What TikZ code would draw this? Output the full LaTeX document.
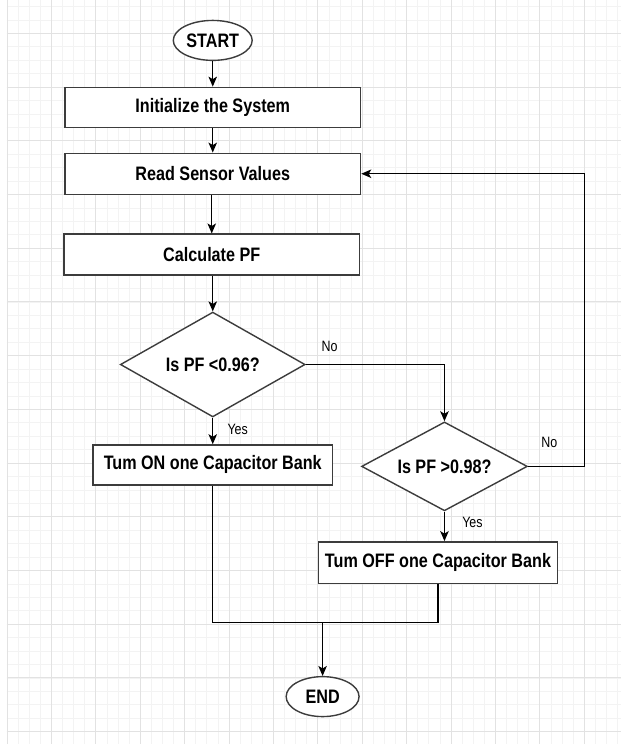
\documentclass[tikz,border=0pt]{standalone}
\usepackage{fontspec}
\setmainfont{Liberation Sans}
\newfontfamily\chartfont[FakeStretch=0.83]{Liberation Sans}
\usetikzlibrary{shapes.geometric,arrows.meta}
\definecolor{gridmaj}{HTML}{E2E2E2}
\definecolor{gridmin}{HTML}{F3F3F3}
\definecolor{edge}{HTML}{3C3C3C}

\begin{document}
\begin{tikzpicture}[x=1pt,y=-1pt,line width=1.3pt,
    box/.style={rectangle,draw=edge,fill=white,line width=1.4pt,inner sep=0pt,font=\chartfont\bfseries\fontsize{19.5}{21}\selectfont},
    term/.style={ellipse,draw=edge,fill=white,line width=1.4pt,inner sep=0pt,font=\chartfont\bfseries\fontsize{19.5}{21}\selectfont},
    dec/.style={diamond,aspect=1.75,draw=edge,fill=white,line width=1.4pt,inner sep=0pt,font=\chartfont\bfseries\fontsize{19.5}{21}\selectfont},
    lbl/.style={inner sep=0pt,font=\chartfont\fontsize{15}{17}\selectfont},
    gmin/.style={draw=gridmin,line width=0.8pt},
    gmaj/.style={draw=gridmaj,line width=0.9pt},
    >={Stealth[length=10pt,width=8.5pt,inset=2.5pt]}]
    \fill[white] (0,0) rectangle (622,744);
    \foreach \i in {0,...,55} \draw[gmin] ({7+\i*11.115},0) -- ({7+\i*11.115},744);
    \foreach \j in {0,...,54} \draw[gmin] (7,{6.12+\j*13.443}) -- (622,{6.12+\j*13.443});
    \foreach \k in {0,...,13} {
      \draw[gmaj] ({7+\k*44.46},0) -- ({7+\k*44.46},744);
      \draw[gmaj] (7,{33+\k*53.77}) -- (622,{33+\k*53.77});
    }

    \node (ST) at (213,40) [term,minimum width=79,minimum height=40]{START};
    \node (IN) at (213,107) [box,minimum width=296,minimum height=40]{Initialize the System};
    \node (RD) at (213,173.5) [box,minimum width=296,minimum height=41]{Read Sensor Values};
    \node (CA) at (212,254.5) [box,minimum width=296,minimum height=41]{Calculate PF};
    \node (D1) at (213,364.5) [dec,minimum width=185,minimum height=105]{Is PF <0.96?};
    \node (ON) at (213,465) [box,minimum width=240,minimum height=40]{Tum ON one Capacitor Bank};
    \node (D2) at (445,466.5) [dec,minimum width=166,minimum height=89]{Is PF >0.98?};
    \node (OF) at (438.5,563) [box,minimum width=239,minimum height=42]{Tum OFF one Capacitor Bank};
    \node (EN) at (323,697) [term,minimum width=73,minimum height=40]{END};
    \coordinate (L) at (585,466.5);
    \coordinate (M) at (323,623);

    \node (N1) at (330,346) [lbl]{No};
    \node (Y1) at (238,429) [lbl]{Yes};
    \node (N2) at (550,442) [lbl]{No};
    \node (Y2) at (473,523) [lbl]{Yes};

    \draw [->] (ST) -- (IN);
    \draw [->] (IN) -- (RD);
    \draw [->] (RD.south -| CA.north) -- (CA.north);
    \draw [->] (CA.south -| D1.north) -- (D1.north);
    \draw [->] (D1.south) -- (D1.south |- ON.north);
    \draw [->] (D1.east) -| (D2.north);
    \draw [->] (D2.east) -- (L) |- (RD.east);
    \draw [->] (D2.south) -- (D2.south |- OF.north);
    \draw (ON.south) -- (ON.south |- M) -- (OF.south |- M) -- (OF.south);
    \draw [->] (M) -- (EN);
\end{tikzpicture}
\end{document}
